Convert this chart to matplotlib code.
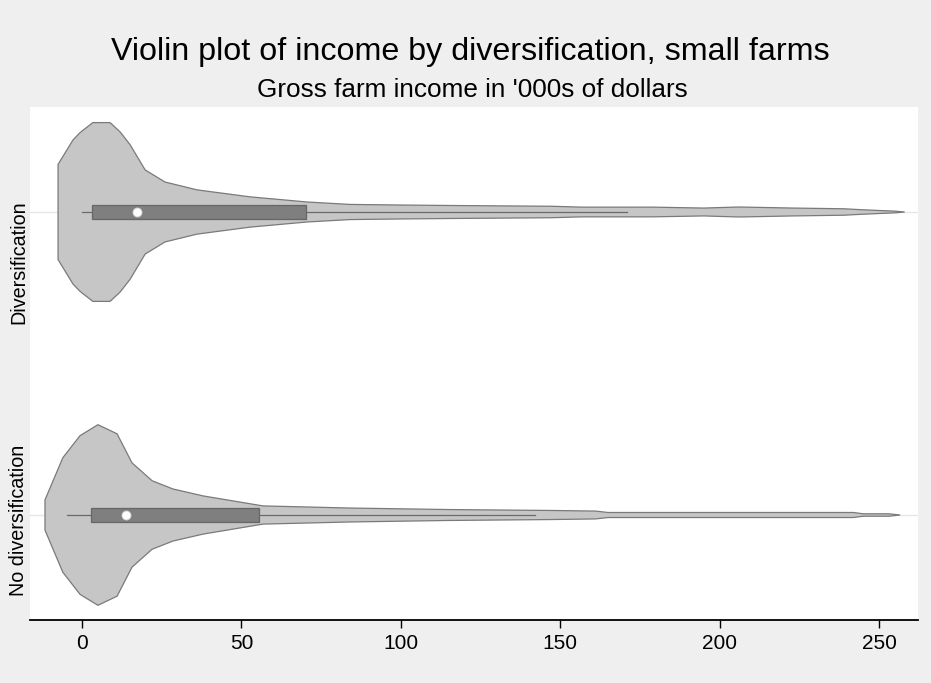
import matplotlib
matplotlib.use("Agg")
import matplotlib.pyplot as plt
import matplotlib.transforms as mtransforms
import numpy as np

plt.rcParams['font.family'] = ['Liberation Sans', 'DejaVu Sans']

# ---- data ----
categories = ["No diversification", "Diversification"]

# density outline: income grid ('000s $) and half-width of violin (category units)
div_x = [-7.5, -2.8, -0.6, 3.4, 8.8, 11.9, 15.1, 19.8, 26.0, 36.1, 52.7, 70.6, 84.0,
         100, 115, 147, 157, 179, 195, 206, 223, 239, 244, 250, 255, 258]
div_hw = [0.157, 0.238, 0.262, 0.295, 0.295, 0.265, 0.222, 0.139, 0.099, 0.073, 0.050,
          0.033, 0.025, 0.023, 0.0215, 0.019, 0.016, 0.016, 0.013, 0.0165, 0.013,
          0.0106, 0.0078, 0.005, 0.0028, 0.0]

nodiv_x = [-11.6, -6.0, -0.6, 5.0, 11.0, 15.7, 22.0, 28.5, 38.0, 56.8, 84.0, 115,
           147, 161, 165, 242, 245, 253, 256.6]
nodiv_hw = [0.050, 0.189, 0.262, 0.298, 0.268, 0.172, 0.113, 0.086, 0.063, 0.030,
            0.023, 0.018, 0.015, 0.013, 0.0083, 0.0083, 0.004, 0.004, 0.0]

# box statistics: lower adjacent, q1, median, q3, upper adjacent
div_stats = [0.0, 3.2, 17.3, 70.2, 170.8]
nodiv_stats = [-4.6, 2.7, 13.8, 55.5, 142.0]

xticks = [0, 50, 100, 150, 200, 250]
title = "Violin plot of income by diversification, small farms"
subtitle = "Gross farm income in '000s of dollars"

# ---- figure ----
W, H = 931, 683
fig = plt.figure(figsize=(W / 100, H / 100), dpi=100, facecolor='#efefef')
ax = fig.add_axes([30 / W, 1 - 620 / H, (918 - 30) / W, (620 - 107) / H])
ax.set_facecolor('white')

ax.set_xlim(-16.3, 262.2)
ax.set_ylim(-0.3465, 1.3465)

violin_fill = '#c6c6c6'
violin_edge = '#7a7a7a'
box_fill = '#7f7f7f'
box_edge = '#666666'

series = [(nodiv_x, nodiv_hw, nodiv_stats), (div_x, div_hw, div_stats)]
for pos, (xs, hw, st) in enumerate(series):
    ax.axhline(pos, color='#e6e6e6', lw=1.0, zorder=0)
    xs = np.asarray(xs, float)
    hw = np.asarray(hw, float)
    px = np.concatenate([xs, xs[::-1]])
    py = np.concatenate([pos + hw, (pos - hw)[::-1]])
    ax.fill(px, py, facecolor=violin_fill, edgecolor=violin_edge, lw=0.9, zorder=2)
    lo, q1, med, q3, hi = st
    ax.plot([lo, q1], [pos, pos], color='#6a6a6a', lw=0.9, zorder=3)
    ax.plot([q3, hi], [pos, pos], color='#6a6a6a', lw=0.9, zorder=3)
    bh = 0.023
    ax.add_patch(plt.Rectangle((q1, pos - bh), q3 - q1, 2 * bh, facecolor=box_fill,
                               edgecolor=box_edge, lw=0.9, zorder=4))
    ax.plot([med], [pos], marker='o', ms=6.5, mfc='white', mec='#d0d0d0', mew=0.6,
            zorder=5)

for s in ['left', 'right', 'top']:
    ax.spines[s].set_visible(False)
ax.spines['bottom'].set_linewidth(1.3)
ax.spines['bottom'].set_color('black')

ax.set_xticks(xticks)
ax.set_xticklabels([str(t) for t in xticks])
ax.tick_params(axis='x', length=6, width=1, color='black', labelsize=15, pad=4,
               labelcolor='black')
ax.set_yticks([])

# category labels (rotated), placed as in the reference
trans = mtransforms.blended_transform_factory(fig.transFigure, ax.transData)
label_y = [-0.018, 0.834]
for cat, yy in zip(categories, label_y):
    ax.text(19 / W, yy, cat, rotation=90, ha='center', va='center', fontsize=14.2,
            transform=trans, color='black')

fig.text(470 / W, 1 - 60 / H, title, ha='center', va='baseline', fontsize=23.2,
         color='black')
fig.text(472 / W, 1 - 97 / H, subtitle, ha='center', va='baseline', fontsize=18.8,
         color='black')

fig.savefig('out.png', dpi=100, facecolor=fig.get_facecolor())
